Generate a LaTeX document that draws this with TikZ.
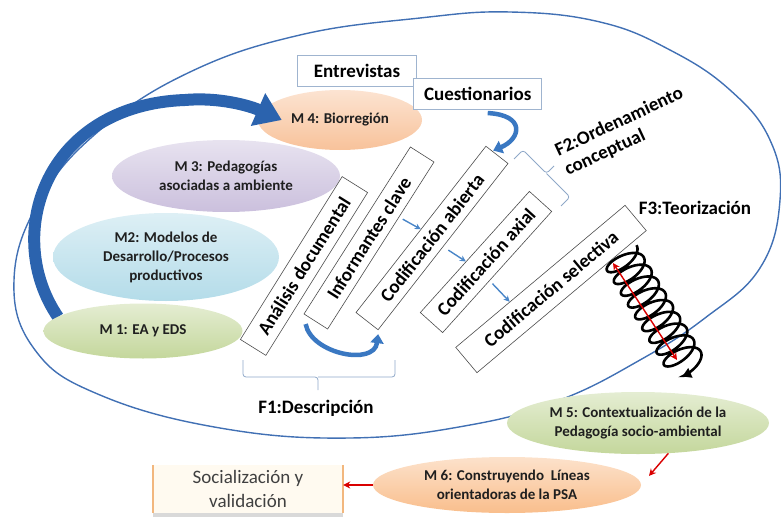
\documentclass[tikz,border=0pt]{standalone}
\usepackage{fontspec}
\setmainfont{Carlito}
\usepackage{tikz}
\usepackage{xcolor}
\usetikzlibrary{arrows.meta, shapes.geometric, positioning, calc, shadows}

\definecolor{ovalazul}{HTML}{4170B4}
\definecolor{flechazul}{HTML}{2B63AE}
\definecolor{curvazul}{HTML}{3A78C2}
\definecolor{pasoazul}{HTML}{4A86C8}
\definecolor{llavecol}{HTML}{8FA8C8}
\definecolor{fuentecol}{HTML}{9FB4CF}
\definecolor{naranja}{HTML}{F8C29A}
\definecolor{lila}{HTML}{CBC0DD}
\definecolor{celeste}{HTML}{B4DCE9}
\definecolor{verde}{HTML}{C4D79C}
\definecolor{naranjados}{HTML}{F9BE8C}
\definecolor{crema}{HTML}{FFFAF0}
\definecolor{bordecrema}{HTML}{F2B77E}

\begin{document}
\begin{tikzpicture}[x=1pt, y=-1pt,
  modulo/.style={ellipse, inner sep=0pt, align=center, text=black!88, font=\fontsize{15}{19}\selectfont\bfseries},
  fase/.style={rectangle, draw=black!70, line width=0.6pt, fill=white, inner sep=1pt, font=\fontsize{19}{21}\selectfont\bfseries},
  fuente/.style={rectangle, draw=fuentecol, line width=0.7pt, fill=white, minimum height=31pt, font=\fontsize{19}{21}\selectfont\bfseries},
  etiqueta/.style={align=left, font=\fontsize{19}{22}\selectfont\bfseries},
  llave/.style={draw=llavecol, line width=0.8pt, rounded corners=3pt},
  paso/.style={draw=pasoazul, line width=1.4pt, -{Stealth[length=6pt, width=6pt]}},
  curva/.style={draw=curvazul, line width=4.5pt, -{Triangle[length=9pt, width=13pt]}},
  rojo/.style={draw=red!85!black, line width=1.4pt, -{Stealth[length=7pt, width=7pt]}}]

\useasboundingbox (0,0) rectangle (781,524);

% gran contorno
\draw[ovalazul, line width=1.4pt] plot[smooth cycle, tension=0.7] coordinates {(14,280) (35,350) (100,395) (220,428) (350,438) (470,425) (560,400) (640,360) (705,318) (760,268) (780,200) (770,140) (730,90) (670,50) (600,22) (510,12) (420,18) (300,35) (190,72) (100,130) (40,200)};

% modulos
\node[modulo, minimum width=164pt, minimum height=60pt, top color=naranja!45!white, bottom color=naranja] (m4) at (340,120) {M 4: Biorregión};
\node[modulo, minimum width=228pt, minimum height=72pt, top color=lila!45!white, bottom color=lila] (m3) at (226,176) {M 3: Pedagogías\\asociadas a ambiente};
\node[modulo, minimum width=226pt, minimum height=88pt, top color=celeste!45!white, bottom color=celeste] (m2) at (166,257) {M2: Modelos de\\Desarrollo/Procesos\\productivos};
\coordinate (m1c) at (143,331);

\draw[flechazul, line width=12pt, -{Triangle[length=26pt, width=34pt]}] ($(m1c)+(-85,-14)$) .. controls (2,235) and (45,105) .. (185,100) .. controls (220,97) and (250,106) .. ([xshift=24pt]m4.west);

\node[modulo, minimum width=199pt, minimum height=55pt, top color=verde!45!white, bottom color=verde] (m1) at (m1c) {M 1: EA y EDS};

% fuentes
\node[fuente, minimum width=119pt] (entrev) at (357,71) {Entrevistas};
\node[fuente, minimum width=128pt, below right=-8.5pt and -3.5pt of entrev] (cuest) {Cuestionarios};

% fases
\node[fase, minimum width=192pt, minimum height=30pt, rotate=58] (analisis) at (304,266) {Análisis documental};
\node[fase, minimum width=198pt, minimum height=28pt, rotate=57.5] (informantes) at (369,238) {Informantes clave};
\node[fase, minimum width=211pt, minimum height=28pt, rotate=52] (abierta) at (432,238) {Codificación abierta};
\node[fase, minimum width=163pt, minimum height=30pt, rotate=48] (axial) at (486,262) {Codificación axial};
\node[fase, minimum width=221pt, minimum height=33pt, rotate=40] (selectiva) at (551,289) {Codificación selectiva};

\draw[paso, shorten <=4pt] ($(informantes.south west)!0.67!(informantes.south east)$) -- (abierta.north);
\draw[paso, shorten <=6pt] (abierta.south) -- ($(axial.north west)!0.42!(axial.north east)$);
\draw[paso, shorten <=4pt] ($(axial.south west)!0.43!(axial.south east)$) -- ($(selectiva.north west)!0.32!(selectiva.north east)$);

\draw[curva] ($(informantes.north west)+(2,10)$) .. controls +(6,30) and +(-4,32) .. ($(abierta.south west)+(0,4)$);
\draw[curva] ($(cuest.south)+(10,3)$) .. controls +(38,2) and +(28,-12) .. ($(abierta.east)+(-4,-4)$);

% llaves
\draw[llave] (243,360) |- (318,377) -- (318,390);
\draw[llave] (318,377) -| (395,360);
\node[etiqueta] (f1) at (316,408) {F1:Descripción};

\draw[llave] (514,159) -- (523,150) -- (546.5,173.5) -- (554,166);
\draw[llave] (546.5,173.5) -- (570,197) -- (561,206);
\node[etiqueta, rotate=25] (f2) at (624,132) {F2:Ordenamiento\\conceptual};

\node[etiqueta] (f3) at (695,208) {F3:Teorización};

% espiral
\draw[black, line width=2.6pt, -{Triangle[length=9pt, width=10pt]}] plot[domain=0:3360, samples=600, smooth, variable=\t] ({620+(\t/3240)*64+16.5*cos(\t)+4.7*sin(\t)}, {255+(\t/3240)*106-9.8*cos(\t)+7.7*sin(\t)});
\coordinate (ejeA) at (613,263);
\coordinate (ejeB) at (677,360);
\draw[rojo, {Stealth[length=7pt, width=7pt]}-{Stealth[length=7pt, width=7pt]}] (ejeA) -- (ejeB);

% salida
\node[modulo, minimum width=262pt, minimum height=62pt, top color=verde!45!white, bottom color=verde] (m5) at (638,423) {M 5: Contextualización de la\\Pedagogía socio-ambiental};
\node[modulo, minimum width=268pt, minimum height=56pt, top color=naranjados!45!white, bottom color=naranjados] (m6) at (507,485) {M 6: Construyendo~ Líneas\\orientadoras de la PSA};
\node[rectangle, fill=crema, minimum width=190pt, minimum height=48pt, align=center, text=black!75, font=\fontsize{19}{24}\selectfont, drop shadow={shadow xshift=0pt, shadow yshift=-4pt, opacity=0.3}] (social) at (248,489) {Socialización y\\validación};
\draw[bordecrema, line width=1.5pt] (social.north west) -- (social.south west);
\draw[bordecrema, line width=1.5pt] (social.north east) -- (social.south east);

\draw[rojo, shorten >=12pt] (m5.-45) -- (m6.east);
\draw[rojo] (m6.west) -- (m6.west -| social.east);

\end{tikzpicture}
\end{document}
